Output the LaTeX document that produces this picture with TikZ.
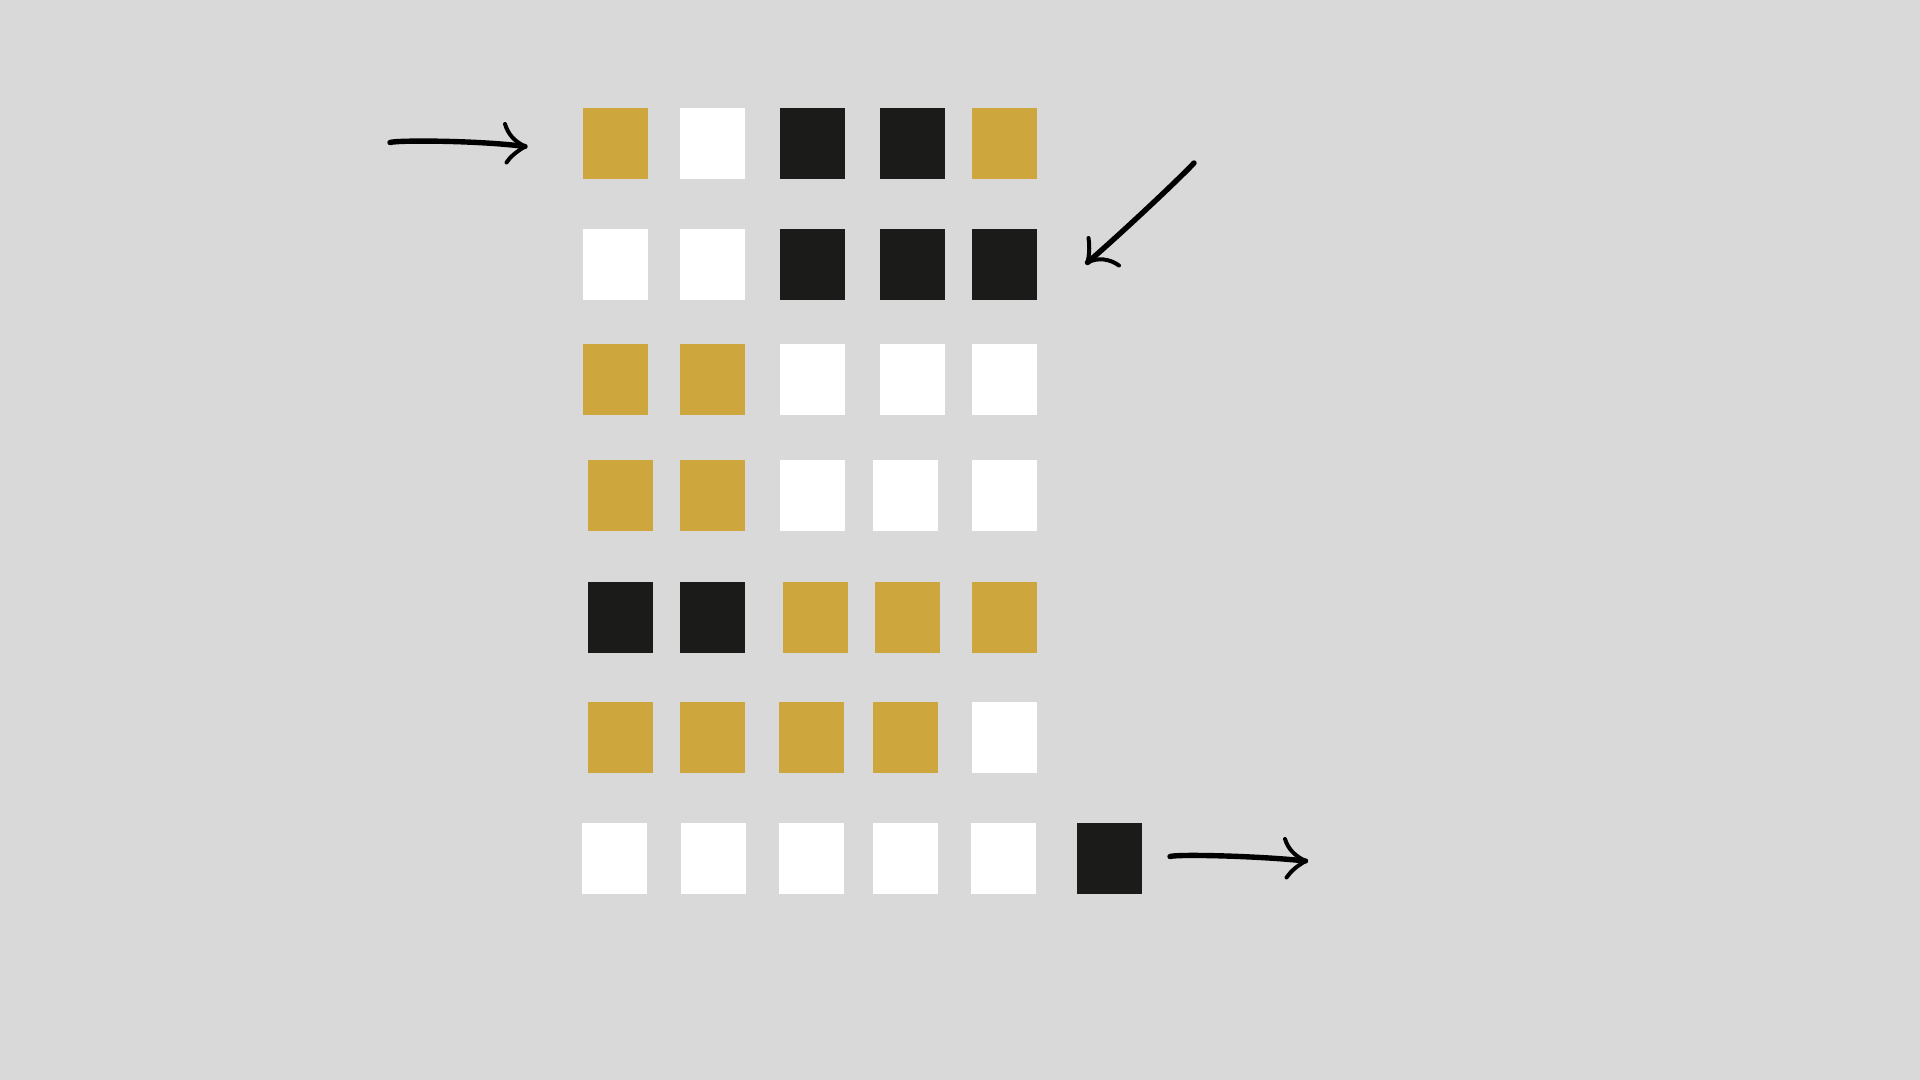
\documentclass[tikz,border=0pt]{standalone}
\definecolor{bg}{HTML}{D9D9D9}
\definecolor{gold}{HTML}{CDA73D}
\definecolor{ink}{HTML}{1B1B19}
\tikzset{
  cell/.style={rectangle, anchor=north west, inner sep=0pt, outer sep=0pt,
    minimum width=32.5pt, minimum height=35.5pt, draw=none},
  gcell/.style={cell, fill=gold},
  wcell/.style={cell, fill=white},
  kcell/.style={cell, fill=ink},
  shaft/.style={draw=black, line width=2.7pt, line cap=round},
  barb/.style={draw=black, line width=2pt, line cap=round, line join=round},
}
\begin{document}
\begin{tikzpicture}[x=0.5pt, y=-0.5pt]
\useasboundingbox (0,0) rectangle (1920,1080);
\fill[bg] (0,0) rectangle (1920,1080);
% row 1
\node[gcell] (r1c1) at (582.5,108) {};
\node[wcell] (r1c2) at (680,108) {};
\node[kcell] (r1c3) at (780,108) {};
\node[kcell] (r1c4) at (880,108) {};
\node[gcell] (r1c5) at (971.5,108) {};
% row 2
\node[wcell] (r2c1) at (582.5,229) {};
\node[wcell] (r2c2) at (680,229) {};
\node[kcell] (r2c3) at (780,229) {};
\node[kcell] (r2c4) at (880,229) {};
\node[kcell] (r2c5) at (971.5,229) {};
% row 3
\node[gcell] (r3c1) at (582.5,344) {};
\node[gcell] (r3c2) at (680,344) {};
\node[wcell] (r3c3) at (780,344) {};
\node[wcell] (r3c4) at (880,344) {};
\node[wcell] (r3c5) at (971.5,344) {};
% row 4
\node[gcell] (r4c1) at (587.7,460) {};
\node[gcell] (r4c2) at (680.3,460) {};
\node[wcell] (r4c3) at (780.3,460) {};
\node[wcell] (r4c4) at (872.7,460) {};
\node[wcell] (r4c5) at (971.7,460) {};
% row 5
\node[kcell] (r5c1) at (587.7,581.5) {};
\node[kcell] (r5c2) at (680.3,581.5) {};
\node[gcell] (r5c3) at (782.7,581.5) {};
\node[gcell] (r5c4) at (875.3,581.5) {};
\node[gcell] (r5c5) at (971.7,581.5) {};
% row 6
\node[gcell] (r6c1) at (587.7,701.5) {};
\node[gcell] (r6c2) at (680.3,701.5) {};
\node[gcell] (r6c3) at (779.3,701.5) {};
\node[gcell] (r6c4) at (873.3,701.5) {};
\node[wcell] (r6c5) at (971.7,701.5) {};
% row 7
\node[wcell] (r7c1) at (582.4,822.5) {};
\node[wcell] (r7c2) at (680.9,822.5) {};
\node[wcell] (r7c3) at (778.9,822.5) {};
\node[wcell] (r7c4) at (872.9,822.5) {};
\node[wcell] (r7c5) at (971.4,822.5) {};
\node[kcell] (r7c6) at (1077.3,822.5) {};
% arrow 1 (into first row)
\coordinate (a1s) at (390,142.5);
\coordinate (a1t) at (525,146.5);
\draw[shaft] (a1s) .. controls (398,140) and (480,140.5) .. (a1t);
\draw[barb] (505,124) .. controls (508,134) and (514,141) .. (a1t);
\draw[barb] (a1t) .. controls (516,152) and (510,157) .. (506.5,162.5);
% arrow 2 (diagonal, to second row)
\coordinate (a2s) at (1194,163);
\coordinate (a2t) at (1087.5,262.5);
\draw[shaft] (a2s) .. controls (1180,178) and (1125,230) .. (a2t);
\draw[barb] (1088.5,238) .. controls (1090,248) and (1089,256) .. (a2t);
\draw[barb] (a2t) .. controls (1098,257) and (1110,259) .. (1119,265.5);
% arrow 3 (out of last row)
\coordinate (a3s) at (1170,856.5);
\coordinate (a3t) at (1305.5,861);
\draw[shaft] (a3s) .. controls (1178,854) and (1260,856) .. (a3t);
\draw[barb] (1285,839) .. controls (1288,849) and (1295,856) .. (a3t);
\draw[barb] (a3t) .. controls (1297,866) and (1291,871) .. (1286.5,877.5);
\end{tikzpicture}
\end{document}
